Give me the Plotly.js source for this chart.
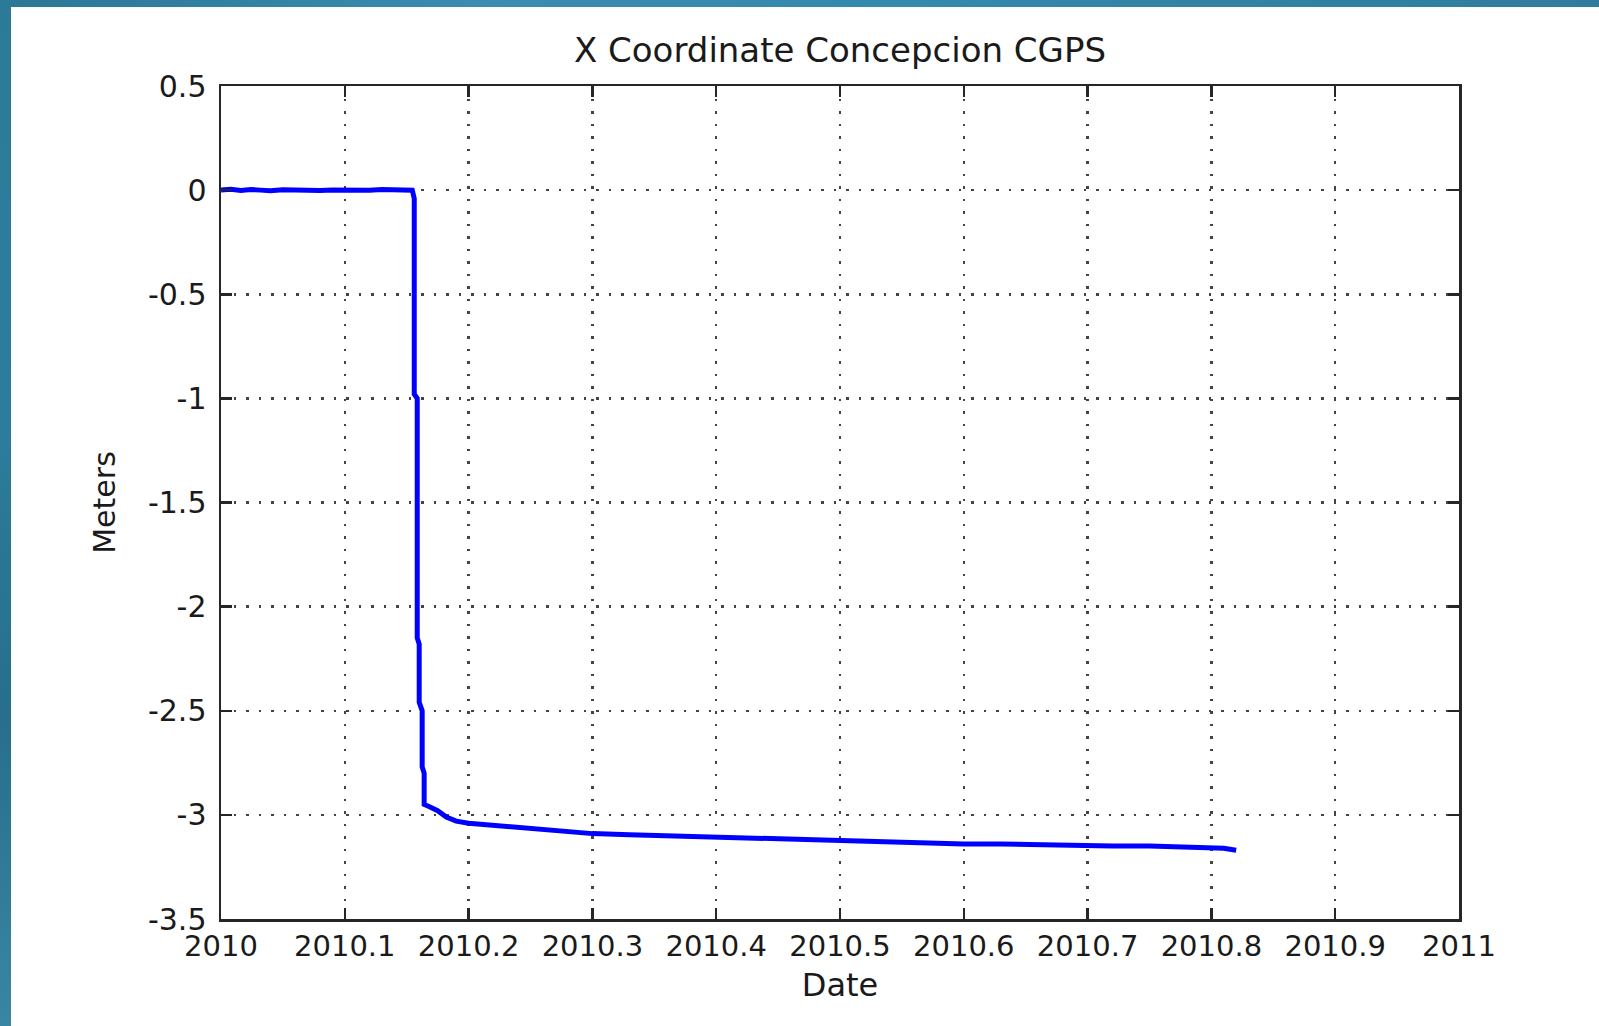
<!DOCTYPE html>
<html>
<head>
<meta charset="utf-8">
<script src="https://cdn.plot.ly/plotly-3.0.1.min.js"></script>
<style>
  html, body { margin: 0; padding: 0; width: 1599px; height: 1026px; overflow: hidden;
    background: #ffffff; }
  #topband { position: absolute; left: 0; top: 0; width: 1599px; height: 7px;
    background: linear-gradient(90deg, #2a7795 0%, #3a8db0 30%, #3488aa 60%, #2f7d9c 100%); }
  #leftband { position: absolute; left: 0; top: 0; width: 11px; height: 1026px;
    background: linear-gradient(180deg, #2b7a98 0%, #2c7d9c 40%, #276f8b 70%, #3a86a2 100%); }
  #chart { position: absolute; left: 11px; top: 7px; width: 1588px; height: 1019px; }
</style>
</head>
<body>
<div id="topband"></div>
<div id="leftband"></div>
<div id="chart"></div>
<script>
// ---- data ----
const dates = [
  2010.000, 2010.008, 2010.016, 2010.024, 2010.032, 2010.040, 2010.050, 2010.060,
  2010.070, 2010.080, 2010.090, 2010.100, 2010.110, 2010.120, 2010.130, 2010.140,
  2010.150, 2010.1545,
  2010.1561, 2010.1561, 2010.1585, 2010.1585, 2010.1601, 2010.1601, 2010.1625,
  2010.1625, 2010.1641, 2010.1641,
  2010.168, 2010.175, 2010.182, 2010.190, 2010.200, 2010.210, 2010.220, 2010.240,
  2010.260, 2010.280, 2010.300, 2010.330, 2010.360, 2010.390, 2010.420, 2010.450,
  2010.480, 2010.510, 2010.540, 2010.570, 2010.600, 2010.630, 2010.660, 2010.690,
  2010.720, 2010.750, 2010.780, 2010.810, 2010.820
];
const meters = [
  0.000, 0.004, -0.002, 0.003, 0.000, -0.003, 0.002, 0.000,
  0.003, -0.002, 0.001, 0.000, 0.002, -0.001, 0.003, 0.000,
  0.002, 0.000,
  -0.04, -0.98, -1.00, -2.15, -2.18, -2.46, -2.50,
  -2.77, -2.80, -2.95,
  -2.96, -2.98, -3.01, -3.03, -3.04, -3.045, -3.055, -3.06,
  -3.07, -3.08, -3.09, -3.095, -3.10, -3.11, -3.115, -3.115,
  -3.125, -3.13, -3.13, -3.135, -3.14, -3.14, -3.145, -3.145,
  -3.15, -3.15, -3.155, -3.16, -3.17
];
const xTickVals = [2010, 2010.1, 2010.2, 2010.3, 2010.4, 2010.5, 2010.6, 2010.7, 2010.8, 2010.9, 2011];
const xTickText = ["2010", "2010.1", "2010.2", "2010.3", "2010.4", "2010.5", "2010.6", "2010.7", "2010.8", "2010.9", "2011"];
const yTickVals = [0.5, 0, -0.5, -1, -1.5, -2, -2.5, -3, -3.5];
const yTickText = ["0.5", "0", "-0.5", "-1", "-1.5", "-2", "-2.5", "-3", "-3.5"];
const chartTitle = "X Coordinate Concepcion CGPS";
const xTitle = "Date";
const yTitle = "Meters";

const fontFam = "DejaVu Sans, Arial, sans-serif";
const gridStyle = {
  showgrid: true, gridcolor: "#444444", gridwidth: 2.5, griddash: "2.5px,10px",
  zeroline: false, showline: true, linecolor: "#262626", linewidth: 2.5, mirror: "ticks",
  ticks: "inside", ticklen: 11, tickwidth: 2.5, tickcolor: "#262626"
};

const trace = {
  x: dates, y: meters, type: "scatter", mode: "lines",
  line: { color: "#0000ff", width: 5 }, hoverinfo: "skip"
};

const layout = {
  width: 1588, height: 1019,
  margin: { l: 210, r: 140, t: 79, b: 107, pad: 0 },
  paper_bgcolor: "#ffffff", plot_bgcolor: "#ffffff",
  showlegend: false,
  title: { text: chartTitle, x: 0.5, xref: "paper", y: 0.958, yanchor: "middle",
    font: { family: fontFam, size: 34, color: "#1a1a1a" } },
  xaxis: Object.assign({}, gridStyle, {
    range: [2010, 2011], tickmode: "array", tickvals: xTickVals, ticktext: xTickText,
    ticklabelstandoff: 0,
    tickfont: { family: fontFam, size: 29, color: "#1a1a1a" },
    title: { text: xTitle, standoff: 12, font: { family: fontFam, size: 32, color: "#1a1a1a" } }
  }),
  yaxis: Object.assign({}, gridStyle, {
    range: [-3.5, 0.5], tickmode: "array", tickvals: yTickVals, ticktext: yTickText,
    ticklabelstandoff: 6,
    tickfont: { family: fontFam, size: 30, color: "#1a1a1a" },
    title: { text: yTitle, standoff: 24, font: { family: fontFam, size: 30, color: "#1a1a1a" } }
  })
};

Plotly.newPlot("chart", [trace], layout, { staticPlot: true, displayModeBar: false });
</script>
</body>
</html>
